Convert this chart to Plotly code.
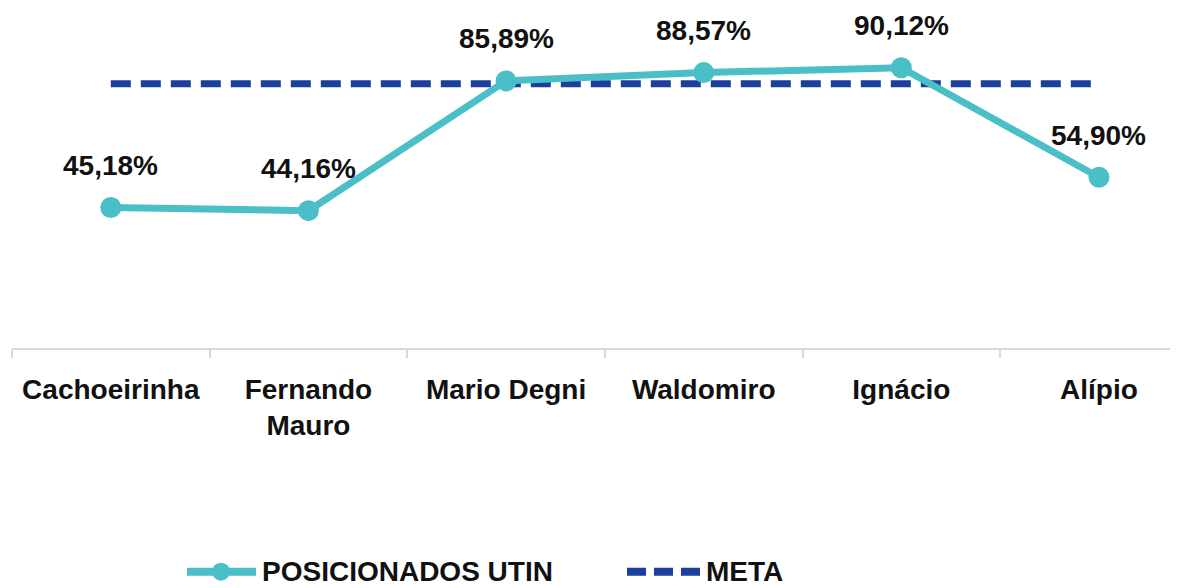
import plotly.graph_objects as go

categories = ["Cachoeirinha", "Fernando<br>Mauro", "Mario Degni", "Waldomiro", "Ignácio", "Alípio"]
posicionados = [45.18, 44.16, 85.89, 88.57, 90.12, 54.90]
meta = [85, 85, 85, 85, 85, 85]
labels = ["45,18%", "44,16%", "85,89%", "88,57%", "90,12%", "54,90%"]

TEAL = "#4BBFC8"
BLUE = "#1A3F9C"
FONT = "Liberation Sans, Arial, sans-serif"
TXT = "#111111"

fig = go.Figure()
fig.add_trace(go.Scatter(
    x=categories, y=meta, mode="lines", name="META",
    line=dict(color=BLUE, width=7, dash="20px,10px"),
    showlegend=False, hoverinfo="skip",
))
fig.add_trace(go.Scatter(
    x=categories, y=posicionados, mode="lines+markers", name="POSICIONADOS UTIN",
    line=dict(color=TEAL, width=7),
    marker=dict(color=TEAL, size=21),
    showlegend=False,
))

for c, v, t in zip(categories, posicionados, labels):
    fig.add_annotation(x=c, y=v, text=f"<b>{t}</b>", showarrow=False,
                       yshift=42, font=dict(family=FONT, size=28, color=TXT))

# custom legend (paper coordinates; plot area spans window x 12..1178, y 36.5..348)
W0, W = 12, 1166
H = 311.5
def px(x):
    return (x - W0) / W
def py(y):
    return (348 - y) / H

ly = 572
fig.add_shape(type="line", xref="paper", yref="paper",
              x0=px(187), x1=px(256), y0=py(ly), y1=py(ly),
              line=dict(color=TEAL, width=8))
fig.add_shape(type="circle", xref="paper", yref="paper",
              x0=px(212), x1=px(230), y0=py(ly + 9), y1=py(ly - 9),
              fillcolor=TEAL, line=dict(color=TEAL, width=0))
fig.add_annotation(xref="paper", yref="paper", x=px(260), y=py(ly),
                   xanchor="left", yanchor="middle", showarrow=False,
                   text="<b>POSICIONADOS UTIN</b>",
                   font=dict(family=FONT, size=28, color=TXT))
fig.add_shape(type="line", xref="paper", yref="paper",
              x0=px(627), x1=px(701), y0=py(ly), y1=py(ly),
              line=dict(color=BLUE, width=8, dash="19px,8px"))
fig.add_annotation(xref="paper", yref="paper", x=px(704), y=py(ly),
                   xanchor="left", yanchor="middle", showarrow=False,
                   text="<b>META</b>",
                   font=dict(family=FONT, size=28, color=TXT))

# page body has an 8px margin: figure is offset by 8px in the window
fig.update_layout(
    width=1170, height=580,
    margin=dict(l=4, r=0, t=28.5, b=240, autoexpand=False),
    paper_bgcolor="white", plot_bgcolor="white",
    showlegend=False,
)
fig.update_xaxes(
    type="category", range=[-0.5, 5.40],
    showline=True, linecolor="#D9D9D9", linewidth=2,
    ticks="outside", tickson="boundaries", ticklen=8, tickcolor="#D9D9D9", tickwidth=2,
    showgrid=False, zeroline=False,
    tickfont=dict(family=FONT, size=28, color=TXT),
    ticklabelstandoff=15,
    tickvals=categories, ticktext=[f"<b>{c}</b>" for c in categories],
)
fig.update_yaxes(range=[0, 100], visible=False, showgrid=False, zeroline=False)

fig.write_html("out.html")
